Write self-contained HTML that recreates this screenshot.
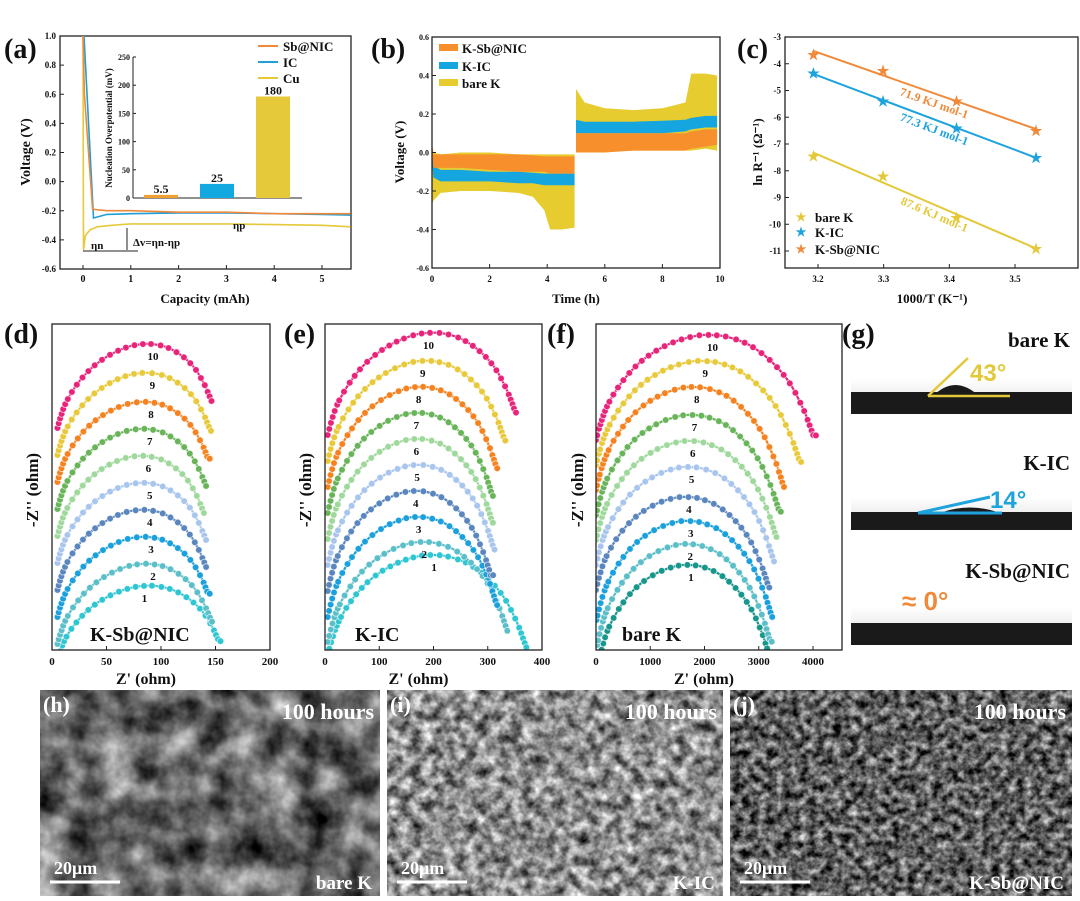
<!DOCTYPE html>
<html><head><meta charset="utf-8"><style>
html,body{margin:0;padding:0;background:#fff}
svg{display:block;font-family:"Liberation Serif",serif;font-weight:bold}
</style></head><body>
<svg id="fig" width="1080" height="901" viewBox="0 0 1080 901" xmlns="http://www.w3.org/2000/svg">
<defs>
<filter id="semh" x="0" y="0" width="1" height="1" color-interpolation-filters="sRGB"><feTurbulence type="fractalNoise" baseFrequency="0.03" numOctaves="4" seed="3"/><feColorMatrix type="matrix" values="1.2 0 0 0 -0.2  1.2 0 0 0 -0.2  1.2 0 0 0 -0.2  0 0 0 0 1"/></filter>
<filter id="semi" x="0" y="0" width="1" height="1" color-interpolation-filters="sRGB"><feTurbulence type="fractalNoise" baseFrequency="0.09" numOctaves="3" seed="7"/><feColorMatrix type="matrix" values="1.3 0 0 0 -0.1  1.3 0 0 0 -0.1  1.3 0 0 0 -0.1  0 0 0 0 1"/></filter>
<filter id="semj" x="0" y="0" width="1" height="1" color-interpolation-filters="sRGB"><feTurbulence type="fractalNoise" baseFrequency="0.12" numOctaves="3" seed="11"/><feColorMatrix type="matrix" values="1.3 0 0 0 -0.28  1.3 0 0 0 -0.28  1.3 0 0 0 -0.28  0 0 0 0 1"/></filter>
<linearGradient id="gbg" x1="0" y1="0" x2="0" y2="1"><stop offset="0" stop-color="#fff"/><stop offset="1" stop-color="#dedede"/></linearGradient>
</defs>
</svg>
<script>
// ---------- data ----------
const aSbX=[0,0.03,0.2,0.5,1,2,3,4,5,5.6];
const aSbY=[1.0,0.6,-0.19,-0.2,-0.2,-0.21,-0.21,-0.22,-0.22,-0.22];
const aIcX=[0.02,0.1,0.22,0.5,1,2,3,4,5,5.6];
const aIcY=[1.0,0.5,-0.25,-0.225,-0.22,-0.215,-0.215,-0.22,-0.225,-0.23];
const aCuX=[0,0.01,0.05,0.15,0.3,0.6,1,2,3,4,5,5.6];
const aCuY=[1.0,-0.47,-0.37,-0.33,-0.31,-0.3,-0.29,-0.29,-0.29,-0.295,-0.3,-0.31];
const insetCats=["Sb@NIC","IC","Cu"];
const insetVals=[5.5,25,180];
const insetLabels=["5.5","25","180"];
const aYTicks=[1.0,0.8,0.6,0.4,0.2,0.0,-0.2,-0.4,-0.6];
const aXTicks=[0,1,2,3,4,5];

const bT1=[0,0.05,0.3,1,2,3,3.5,3.9,4.1,4.5,4.95];
const bT2=[5,5.3,6,7,8,8.8,9,9.5,9.9];
const bYelU1=[0.05,0.0,-0.01,0,0,-0.01,-0.01,-0.01,-0.01,-0.01,-0.01];
const bYelL1=[-0.27,-0.25,-0.21,-0.2,-0.2,-0.21,-0.23,-0.3,-0.4,-0.4,-0.39];
const bYelU2=[0.33,0.26,0.23,0.22,0.23,0.26,0.41,0.41,0.4];
const bYelL2=[0,0,0.01,0.01,0.01,0.01,0.01,0.02,0.01];
const bBluU1=[0.02,-0.07,-0.09,-0.09,-0.1,-0.1,-0.105,-0.11,-0.11,-0.11,-0.11];
const bBluL1=[-0.05,-0.13,-0.15,-0.15,-0.15,-0.16,-0.16,-0.17,-0.17,-0.17,-0.17];
const bBluU2=[0.17,0.16,0.16,0.16,0.165,0.17,0.18,0.19,0.19];
const bBluL2=[0.1,0.1,0.1,0.1,0.1,0.11,0.12,0.13,0.13];
const bOraU1=[0.05,-0.01,-0.01,-0.01,-0.01,-0.01,-0.015,-0.02,-0.02,-0.02,-0.02];
const bOraL1=[0.0,-0.08,-0.08,-0.08,-0.09,-0.1,-0.1,-0.1,-0.11,-0.11,-0.11];
const bOraU2=[0.1,0.1,0.1,0.1,0.1,0.1,0.11,0.12,0.12];
const bOraL2=[0,0,0,0.01,0.01,0.01,0.02,0.03,0.04];
const bYTicks=[0.6,0.4,0.2,0.0,-0.2,-0.4,-0.6];
const bXTicks=[0,2,4,6,8,10];

const cX=[3.193,3.299,3.411,3.532];
const cOra=[-3.65,-4.25,-5.4,-6.5];
const cBlu=[-4.35,-5.4,-6.4,-7.5];
const cYel=[-7.45,-8.2,-9.75,-10.9];
const cLabels=["71.9 KJ mol-1","77.3 KJ mol-1","87.6 KJ mol-1"];
const cYTicks=[-3,-4,-5,-6,-7,-8,-9,-10,-11];
const cXTicks=[3.2,3.3,3.4,3.5];

// normalized Nyquist arc shape
const arcU=[0,0.02,0.05,0.1,0.17,0.25,0.35,0.45,0.52,0.6,0.7,0.8,0.88,0.94,0.97,0.99,1.0];
const arcV=[0,0.15,0.32,0.5,0.68,0.82,0.93,0.99,1.0,0.98,0.9,0.74,0.54,0.3,0.14,0.03,0.05];
const dStart=[5,5,5,5,5,5,5,5,5,5];
const dEnd=[155,148,145,143,143,141,143,145,147,148];
const dBase=[-10,6,33,60,87,114,141,168,195,222];
const dHeight=[74,80,80,80,80,80,80,80,82,84];
const dLift=[0.25,0.3,0.3,0.3,0.3,0.3,0.3,0.3,0.32,0.35];
const eStart=[5,5,5,5,5,5,5,5,5,5];
const eEnd=[375,340,320,310,315,312,312,320,335,355];
const eBase=[-5,8,33,59,85,111,137,163,189,215];
const eHeight=[100,100,100,100,100,100,100,100,100,102];
const eLift=[0.05,0.08,0.1,0.12,0.14,0.15,0.16,0.18,0.2,0.22];
const fStart=[50,20,10,0,0,0,0,0,0,0];
const fEnd=[3250,3250,3280,3220,3320,3360,3420,3500,3800,4060];
const fBase=[-12,5,30,60,85,110,135,160,185,210];
const fHeight=[97,101,99,93,98,99,100,103,104,105];
const fLift=[0,0,0,0,0,0,0,0,0,0];
const dXTicks=[0,50,100,150,200];
const eXTicks=[0,100,200,300,400];
const fXTicks=[0,1000,2000,3000,4000];

// ---------- helpers ----------
const NS="http://www.w3.org/2000/svg";
const svg=document.getElementById('fig');
function el(tag,attrs,name,inter,parent){
  const e=document.createElementNS(NS,tag);
  for(const k in attrs)e.setAttribute(k,attrs[k]);
  
  
  (parent||svg).appendChild(e);return e;
}
function txt(x,y,s,size,name,opt){
  opt=opt||{};
  const a={x:x,y:y,'font-size':size,fill:opt.fill||'#111','text-anchor':opt.anchor||'start'};
  if(opt.rot!==undefined)a.transform='rotate('+opt.rot+' '+x+' '+y+')';
  if(opt.family)a['font-family']=opt.family;
  const t=el('text',a,name,false,opt.parent);t.textContent=s;return t;
}
function lin(d0,d1,r0,r1){return v=>r0+(v-d0)*(r1-r0)/(d1-d0);}
function box(x0,y0,x1,y1,name){el('rect',{x:x0,y:y0,width:x1-x0,height:y1-y0,fill:'none',stroke:'#222','stroke-width':1.3},name,false);}
function poly(xs,ys,sx,sy){return xs.map((v,i)=>sx(v).toFixed(1)+','+sy(ys[i]).toFixed(1)).join(' ');}

// ---------- panel labels ----------
[['(a)',4,58],['(b)',371,58],['(c)',737,58],['(d)',4,343],['(e)',284,343],['(f)',547,343],['(g)',842,343]].forEach(p=>{
  txt(p[1],p[2],p[0],28,'panel-label-'+p[0][1]);
});

// ---------- panel a ----------
{
const sx=lin(0,5,83,322), sy=lin(1.0,-0.6,36,269);
box(60,36,351,269,'panel-a-plot-area');
aYTicks.forEach(v=>{el('line',{x1:60,x2:64,y1:sy(v),y2:sy(v),stroke:'#222'},'a-y-tick',false);txt(56,sy(v)+3,v.toFixed(1),9,'a-y-tick-label',{anchor:'end'});});
aXTicks.forEach(v=>{el('line',{x1:sx(v),x2:sx(v),y1:269,y2:265,stroke:'#222'},'a-x-tick',false);txt(sx(v),282,String(v),10,'a-x-tick-label',{anchor:'middle'});});
txt(30,152,'Voltage (V)',14,'a-y-axis-title',{anchor:'middle',rot:-90});
txt(205,303,'Capacity (mAh)',13,'a-x-axis-title',{anchor:'middle'});
el('polyline',{points:poly(aCuX,aCuY,sx,sy),fill:'none',stroke:'#e6c93a','stroke-width':1.6},'cu-voltage-line',false);
el('polyline',{points:poly(aIcX,aIcY,sx,sy),fill:'none',stroke:'#1f9fd6','stroke-width':1.6},'ic-voltage-line',false);
el('polyline',{points:poly(aSbX,aSbY,sx,sy),fill:'none',stroke:'#f08a3a','stroke-width':1.6},'sb-nic-voltage-line',false);
el('line',{x1:83,x2:138,y1:251,y2:251,stroke:'#222'},'eta-n-baseline',false);
el('line',{x1:127,x2:127,y1:228,y2:250,stroke:'#222'},'delta-v-arrow',false);
txt(91,249,'ηn',11,'eta-n-label');
txt(133,246,'Δv=ηn-ηp',11,'delta-v-label');
txt(233,229,'ηp',11,'eta-p-label');
[['Sb@NIC','#f08a3a',46],['IC','#1f9fd6',62],['Cu','#e6c93a',78]].forEach(l=>{
  el('line',{x1:258,x2:278,y1:l[2],y2:l[2],stroke:l[1],'stroke-width':2},'a-legend-swatch',false);
  txt(283,l[2]+5,l[0],13,'a-legend-label');
});
const iy=lin(0,250,198,57);
el('line',{x1:133,x2:133,y1:57,y2:198,stroke:'#222'},'inset-y-axis',false);
el('line',{x1:133,x2:302,y1:198,y2:198,stroke:'#222'},'inset-x-axis',false);
[0,50,100,150,200,250].forEach(v=>{el('line',{x1:133,x2:136,y1:iy(v),y2:iy(v),stroke:'#222'},'inset-tick',false);txt(130,iy(v)+3,String(v),8,'inset-tick-label',{anchor:'end'});});
txt(112,128,'Nucleation Overpotential (mV)',9,'inset-y-axis-title',{anchor:'middle',rot:-90});
const cols=['#f0a030','#12a9e0','#e5c93a'];
insetVals.forEach((v,i)=>{
  const cx=161+i*56;
  el('rect',{x:cx-17,y:iy(v),width:34,height:198-iy(v),fill:cols[i]},'inset-bar-'+insetCats[i].toLowerCase().replace('@','-'),false);
  txt(cx,iy(v)-2,insetLabels[i],12,'inset-bar-value',{anchor:'middle'});
});
}

// ---------- panel b ----------
{
const sx=lin(0,10,432,720), sy=lin(0.6,-0.6,37,268);
function band(t,u,l,col,name){
  const pts=t.map((v,i)=>sx(v)+','+sy(u[i])).concat(t.slice().reverse().map((v,i)=>sx(v)+','+sy(l[t.length-1-i])));
  el('polygon',{points:pts.join(' '),fill:col},name,false);
}
band(bT1,bYelU1,bYelL1,'#e6cc2e','bare-k-band-plating');band(bT2,bYelU2,bYelL2,'#e6cc2e','bare-k-band-stripping');
band(bT1,bBluU1,bBluL1,'#15a6e0','k-ic-band-plating');band(bT2,bBluU2,bBluL2,'#15a6e0','k-ic-band-stripping');
band(bT1,bOraU1,bOraL1,'#f7902c','k-sb-nic-band-plating');band(bT2,bOraU2,bOraL2,'#f7902c','k-sb-nic-band-stripping');
box(432,37,720,268,'panel-b-plot-area');
bYTicks.forEach(v=>{el('line',{x1:432,x2:436,y1:sy(v),y2:sy(v),stroke:'#222'},'b-y-tick',false);txt(429,sy(v)+3,v.toFixed(1),8,'b-y-tick-label',{anchor:'end'});});
bXTicks.forEach(v=>{el('line',{x1:sx(v),x2:sx(v),y1:268,y2:264,stroke:'#222'},'b-x-tick',false);txt(sx(v),282,String(v),9,'b-x-tick-label',{anchor:'middle'});});
txt(404,152,'Voltage (V)',13,'b-y-axis-title',{anchor:'middle',rot:-90});
txt(576,303,'Time (h)',13,'b-x-axis-title',{anchor:'middle'});
[['K-Sb@NIC','#f7902c',48],['K-IC','#15a6e0',66],['bare K','#e6cc2e',83]].forEach(l=>{
  el('rect',{x:439,y:l[2]-4,width:19,height:7,fill:l[1]},'b-legend-swatch',false);
  txt(462,l[2]+5,l[0],13,'b-legend-label');
});
}

// ---------- panel c ----------
{
const sx=lin(3.2,3.5,818,1015), sy=lin(-3,-11,37,251);
box(785,37,1078,268,'panel-c-plot-area');
cYTicks.forEach(v=>{el('line',{x1:785,x2:789,y1:sy(v),y2:sy(v),stroke:'#222'},'c-y-tick',false);txt(781,sy(v)+3,String(v),9,'c-y-tick-label',{anchor:'end'});});
cXTicks.forEach(v=>{el('line',{x1:sx(v),x2:sx(v),y1:268,y2:264,stroke:'#222'},'c-x-tick',false);txt(sx(v),282,v.toFixed(1),9,'c-x-tick-label',{anchor:'middle'});});
txt(762,152,'ln R⁻¹ (Ω⁻¹)',13,'c-y-axis-title',{anchor:'middle',rot:-90});
txt(932,303,'1000/T (K⁻¹)',13,'c-x-axis-title',{anchor:'middle'});
function fit(ys){const n=cX.length,mx=cX.reduce((a,b)=>a+b)/n,my=ys.reduce((a,b)=>a+b)/n;let num=0,den=0;cX.forEach((x,i)=>{num+=(x-mx)*(ys[i]-my);den+=(x-mx)*(x-mx);});const m=num/den;return x=>my+m*(x-mx);}
const ser=[[cOra,'#f08a3a','k-sb-nic',0],[cBlu,'#1ea3dc','k-ic',1],[cYel,'#e3c93a','bare-k',2]];
ser.forEach(s=>{
  const f=fit(s[0]);const x0=cX[0],x1=cX[3];
  el('line',{x1:sx(x0),y1:sy(f(x0)),x2:sx(x1),y2:sy(f(x1)),stroke:s[1],'stroke-width':2},s[2]+'-fit-line',false);
  s[0].forEach((v,i)=>{txt(sx(cX[i]),sy(v)+5,'★',14,s[2]+'-point',{anchor:'middle',fill:s[1]});});
  const xm=(cX[1]+cX[2])/2+0.02, ang=Math.atan2(sy(f(x1))-sy(f(x0)),sx(x1)-sx(x0))*180/Math.PI;
  txt(sx(xm),sy(f(xm))+14,cLabels[s[3]],12,s[2]+'-activation-energy-label',{anchor:'middle',fill:s[1],rot:ang});
});
[['bare K','#e3c93a',217],['K-IC','#1ea3dc',232],['K-Sb@NIC','#f08a3a',249]].forEach(l=>{
  txt(801,l[2]+4,'★',12,'c-legend-marker',{anchor:'middle',fill:l[1]});
  txt(815,l[2]+5,l[0],13,'c-legend-label');
});
}

// ---------- panels d, e, f ----------
const eisColors=['#2ec6d2','#5bbfc9','#1aa0dc','#5a86bf','#a8c5ee','#9ed89b','#68b458','#f5821f','#e8c93a','#e8247a'];
function catmull(pts,seg){const out=[];for(let i=0;i<pts.length-1;i++){const p0=pts[Math.max(0,i-1)],p1=pts[i],p2=pts[i+1],p3=pts[Math.min(pts.length-1,i+2)];for(let k=0;k<seg;k++){const t=k/seg,t2=t*t,t3=t2*t;out.push([0.5*((2*p1[0])+(-p0[0]+p2[0])*t+(2*p0[0]-5*p1[0]+4*p2[0]-p3[0])*t2+(-p0[0]+3*p1[0]-3*p2[0]+p3[0])*t3),0.5*((2*p1[1])+(-p0[1]+p2[1])*t+(2*p0[1]-5*p1[1]+4*p2[1]-p3[1])*t2+(-p0[1]+3*p1[1]-3*p2[1]+p3[1])*t3)]);}}out.push(pts[pts.length-1]);return out;}
function eisPanel(id,x0,x1,xmax,ticks,starts,ends,bases,heights,lifts,colors,label,labelX,titleX){
  const sx=lin(0,xmax,x0,x0+(xmax===200?218:217)), y0=650, y1=324;
  const clip=el('clipPath',{id:'clip-'+id},id+'-clip',false);
  el('rect',{x:x0,y:y1,width:x1-x0,height:y0-y1},id+'-clip-rect',false,clip);
  const g=el('g',{'clip-path':'url(#clip-'+id+')'},id+'-curves',false);
  starts.forEach((s,i)=>{
    const L=lifts[i];const raw=arcU.map((u,k)=>arcV[k]+L*u);const mx=Math.max(...raw);
    const pts=arcU.map((u,k)=>[sx(s+(ends[i]-s)*u),y0-bases[i]-heights[i]*raw[k]/mx]);
    const sm=catmull(pts,8);
    el('polyline',{points:sm.map(p=>p[0].toFixed(1)+','+p[1].toFixed(1)).join(' '),fill:'none',stroke:colors[i],'stroke-width':2.2},id+'-curve-'+(i+1),false,g);
    let acc=0,prev=sm[0];
    sm.forEach((p,k)=>{acc+=Math.hypot(p[0]-prev[0],p[1]-prev[1]);prev=p;
      if(k===0||acc>=(k<sm.length*0.15||k>sm.length*0.85?4.5:8)){acc=0;
        el('circle',{cx:p[0].toFixed(1),cy:p[1].toFixed(1),r:3.3,fill:colors[i],stroke:'#fff','stroke-width':0.8,'stroke-opacity':0.7},id+'-marker',false,g);}
    });
    let ai=0;pts.forEach((p,k)=>{if(p[1]<pts[ai][1])ai=k;});
    txt(pts[ai][0]+2,pts[ai][1]+16,String(i+1),11,id+'-curve-number',{anchor:'middle',parent:g});
  });
  box(x0,y1,x1,y0,id+'-plot-area');
  ticks.forEach(v=>{el('line',{x1:sx(v),x2:sx(v),y1:y0,y2:y0-4,stroke:'#222'},id+'-x-tick',false);txt(sx(v),665,String(v),11,id+'-x-tick-label',{anchor:'middle'});});
  txt(titleX,490,"-Z'' (ohm)",17,id+'-y-axis-title',{anchor:'middle',rot:-90});
  txt((x0+x1)/2-15,684,"Z' (ohm)",16,id+'-x-axis-title',{anchor:'middle'});
  txt(labelX,641,label,20,id+'-sample-label');
}
eisPanel('panel-d',52,270,200,dXTicks,dStart,dEnd,dBase,dHeight,dLift,eisColors,'K-Sb@NIC',90,38);
eisPanel('panel-e',325,542,400,eXTicks,eStart,eEnd,eBase,eHeight,eLift,eisColors,'K-IC',355,311);
const fColors=eisColors.slice();fColors[0]='#17968c';
eisPanel('panel-f',596,842,4000,fXTicks,fStart,fEnd,fBase,fHeight,fLift,fColors,'bare K',622,583);

// ---------- panel g ----------
{
const rows=[[347,378,414,'bare K'],[470,497,530,'K-IC'],[578,606,645,'K-Sb@NIC']];
rows.forEach((r,i)=>{
  el('rect',{x:851,y:r[1],width:221,height:r[2]-r[1],fill:'url(#gbg)'},'contact-angle-photo-bg',false);
  el('rect',{x:851,y:r[2]-(i===0?22:i===1?18:22),width:221,height:(i===0?22:i===1?18:22),fill:'#1a1a1a'},'contact-angle-substrate',false);
  txt(1070,r[0],r[3],21,'contact-angle-sample-label',{anchor:'end'});
});
el('path',{d:'M932 397 Q955 373 980 397 Z',fill:'#1a1a1a'},'bare-k-droplet',false);
el('line',{x1:928,x2:1010,y1:396,y2:396,stroke:'#e3c93a','stroke-width':2.5},'bare-k-angle-base',false);
el('line',{x1:928,x2:968,y1:396,y2:358,stroke:'#e3c93a','stroke-width':2.5},'bare-k-angle-tangent',false);
txt(970,381,'43°',24,'bare-k-angle-label',{fill:'#e3c93a',family:'"Liberation Sans",sans-serif'});
el('path',{d:'M940 513 Q970 502 1000 513 Z',fill:'#1a1a1a'},'k-ic-droplet',false);
el('line',{x1:918,x2:1002,y1:513,y2:513,stroke:'#1ea3dc','stroke-width':3},'k-ic-angle-base',false);
el('line',{x1:918,x2:990,y1:513,y2:497,stroke:'#1ea3dc','stroke-width':3},'k-ic-angle-tangent',false);
txt(990,508,'14°',24,'k-ic-angle-label',{fill:'#1ea3dc',family:'"Liberation Sans",sans-serif'});
txt(902,610,'≈ 0°',26,'k-sb-nic-angle-label',{fill:'#f08a3a',family:'"Liberation Sans",sans-serif'});
}

// ---------- SEM images ----------
[[40,380,'semh','bare K','sem-bare-k'],[387,723,'semi','K-IC','sem-k-ic'],[730,1072,'semj','K-Sb@NIC','sem-k-sb-nic']].forEach((s,i)=>{
  el('rect',{x:s[0],y:690,width:s[1]-s[0],height:206,fill:'#777',filter:'url(#'+s[2]+')'},s[4]+'-image',false);
  txt(s[1]-6,719,'100 hours',22,s[4]+'-time-label',{anchor:'end',fill:'#fff'});
  txt(s[1]-8,889,s[3],19,s[4]+'-sample-label',{anchor:'end',fill:'#fff'});
  txt(s[0]+14,874,'20μm',18,s[4]+'-scale-label',{fill:'#fff'});
  el('line',{x1:s[0]+10,x2:s[0]+80,y1:882,y2:882,stroke:'#fff','stroke-width':3},s[4]+'-scale-bar',false);
  txt(s[0]+3,712,'('+'hij'[i]+')',22,'panel-label-'+'hij'[i],{fill:'#fff'});
});
</script>
</body></html>
